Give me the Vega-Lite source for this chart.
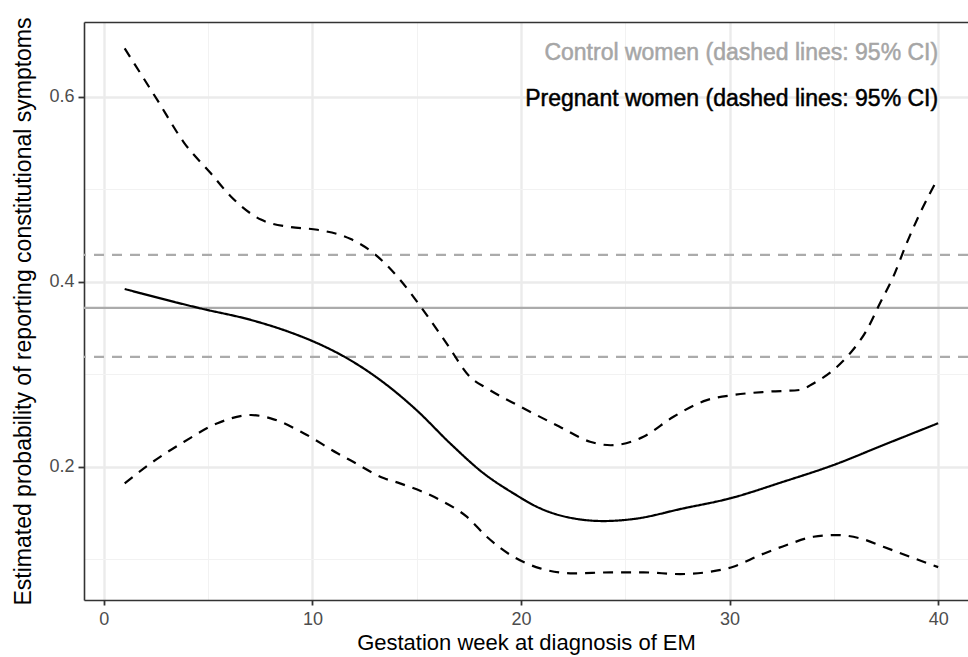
{
  "$schema": "https://vega.github.io/schema/vega-lite/v6.json",
  "width": 884,
  "height": 578,
  "autosize": {"type": "none"},
  "padding": {"left": 84, "top": 22, "right": 0, "bottom": 57},
  "background": "white",
  "config": {
    "view": {"stroke": null},
    "font": "Liberation Sans",
    "axis": {
      "labelFont": "Liberation Sans",
      "titleFont": "Liberation Sans",
      "labelColor": "#4D4D4D",
      "labelFontSize": 18,
      "titleColor": "#000000",
      "titleFontSize": 22,
      "titleFontWeight": "normal",
      "tickColor": "#333333",
      "tickWidth": 1.8,
      "domainColor": "#333333",
      "domainWidth": 1.6,
      "gridColor": "#EBEBEB"
    }
  },
  "datasets": {
    "preg": [
      {"week": 1.0, "value": 0.392, "series": "estimate"},
      {"week": 4.65, "value": 0.371, "series": "estimate"},
      {"week": 7.05, "value": 0.3586, "series": "estimate"},
      {"week": 8.96, "value": 0.345, "series": "estimate"},
      {"week": 10.24, "value": 0.3334, "series": "estimate"},
      {"week": 11.52, "value": 0.319, "series": "estimate"},
      {"week": 13.25, "value": 0.2937, "series": "estimate"},
      {"week": 15.0, "value": 0.261, "series": "estimate"},
      {"week": 16.6, "value": 0.2253, "series": "estimate"},
      {"week": 18.2, "value": 0.193, "series": "estimate"},
      {"week": 19.64, "value": 0.1712, "series": "estimate"},
      {"week": 20.92, "value": 0.155, "series": "estimate"},
      {"week": 22.51, "value": 0.1442, "series": "estimate"},
      {"week": 23.95, "value": 0.1413, "series": "estimate"},
      {"week": 25.39, "value": 0.1435, "series": "estimate"},
      {"week": 27.79, "value": 0.155, "series": "estimate"},
      {"week": 30.02, "value": 0.1658, "series": "estimate"},
      {"week": 32.58, "value": 0.1838, "series": "estimate"},
      {"week": 34.98, "value": 0.2018, "series": "estimate"},
      {"week": 37.37, "value": 0.2234, "series": "estimate"},
      {"week": 40.0, "value": 0.247, "series": "estimate"},
      {"week": 1.0, "value": 0.652, "series": "upper"},
      {"week": 2.57, "value": 0.596, "series": "upper"},
      {"week": 3.85, "value": 0.55, "series": "upper"},
      {"week": 5.13, "value": 0.517, "series": "upper"},
      {"week": 6.09, "value": 0.492, "series": "upper"},
      {"week": 7.53, "value": 0.467, "series": "upper"},
      {"week": 8.96, "value": 0.459, "series": "upper"},
      {"week": 10.24, "value": 0.456, "series": "upper"},
      {"week": 11.84, "value": 0.446, "series": "upper"},
      {"week": 12.92, "value": 0.431, "series": "upper"},
      {"week": 14.2, "value": 0.402, "series": "upper"},
      {"week": 15.32, "value": 0.369, "series": "upper"},
      {"week": 16.44, "value": 0.333, "series": "upper"},
      {"week": 17.56, "value": 0.297, "series": "upper"},
      {"week": 18.36, "value": 0.2848, "series": "upper"},
      {"week": 19.96, "value": 0.265, "series": "upper"},
      {"week": 21.87, "value": 0.243, "series": "upper"},
      {"week": 23.31, "value": 0.227, "series": "upper"},
      {"week": 24.3, "value": 0.2232, "series": "upper"},
      {"week": 25.87, "value": 0.2324, "series": "upper"},
      {"week": 27.31, "value": 0.254, "series": "upper"},
      {"week": 28.91, "value": 0.272, "series": "upper"},
      {"week": 30.18, "value": 0.2775, "series": "upper"},
      {"week": 31.78, "value": 0.281, "series": "upper"},
      {"week": 33.38, "value": 0.283, "series": "upper"},
      {"week": 34.02, "value": 0.29, "series": "upper"},
      {"week": 34.98, "value": 0.3045, "series": "upper"},
      {"week": 35.78, "value": 0.3226, "series": "upper"},
      {"week": 36.58, "value": 0.3478, "series": "upper"},
      {"week": 37.21, "value": 0.3766, "series": "upper"},
      {"week": 37.85, "value": 0.4054, "series": "upper"},
      {"week": 38.49, "value": 0.4415, "series": "upper"},
      {"week": 39.13, "value": 0.474, "series": "upper"},
      {"week": 40.0, "value": 0.512, "series": "upper"},
      {"week": 1.0, "value": 0.182, "series": "lower"},
      {"week": 2.25, "value": 0.2037, "series": "lower"},
      {"week": 3.85, "value": 0.227, "series": "lower"},
      {"week": 5.45, "value": 0.247, "series": "lower"},
      {"week": 7.05, "value": 0.2559, "series": "lower"},
      {"week": 8.0, "value": 0.2523, "series": "lower"},
      {"week": 9.6, "value": 0.236, "series": "lower"},
      {"week": 11.2, "value": 0.2145, "series": "lower"},
      {"week": 11.8, "value": 0.2072, "series": "lower"},
      {"week": 13.44, "value": 0.1875, "series": "lower"},
      {"week": 14.2, "value": 0.182, "series": "lower"},
      {"week": 16.12, "value": 0.164, "series": "lower"},
      {"week": 17.4, "value": 0.146, "series": "lower"},
      {"week": 18.36, "value": 0.1243, "series": "lower"},
      {"week": 19.64, "value": 0.1027, "series": "lower"},
      {"week": 20.92, "value": 0.0902, "series": "lower"},
      {"week": 22.51, "value": 0.0848, "series": "lower"},
      {"week": 24.3, "value": 0.0858, "series": "lower"},
      {"week": 25.87, "value": 0.0858, "series": "lower"},
      {"week": 27.63, "value": 0.084, "series": "lower"},
      {"week": 29.06, "value": 0.0865, "series": "lower"},
      {"week": 30.18, "value": 0.0919, "series": "lower"},
      {"week": 31.46, "value": 0.1045, "series": "lower"},
      {"week": 32.74, "value": 0.1154, "series": "lower"},
      {"week": 34.02, "value": 0.1243, "series": "lower"},
      {"week": 35.14, "value": 0.1262, "series": "lower"},
      {"week": 36.26, "value": 0.1226, "series": "lower"},
      {"week": 37.37, "value": 0.1135, "series": "lower"},
      {"week": 38.65, "value": 0.1027, "series": "lower"},
      {"week": 40.0, "value": 0.0915, "series": "lower"}
    ],
    "control": [
      {"value": 0.3716, "series": "estimate"},
      {"value": 0.4289, "series": "upper"},
      {"value": 0.3186, "series": "lower"}
    ],
    "labels": [
      {"week": 40, "value": 0.6397, "group": "Control", "label": "Control women (dashed lines: 95% CI)"},
      {"week": 40, "value": 0.59, "group": "Pregnant", "label": "Pregnant women (dashed lines: 95% CI)"}
    ]
  },
  "resolve": {"axis": {"x": "independent", "y": "independent"}},
  "layer": [
    {
      "data": {"name": "labels"},
      "mark": {"type": "text", "align": "right", "baseline": "alphabetic", "fontSize": 23, "font": "Liberation Sans", "strokeWidth": 0.5},
      "encoding": {
        "x": {"field": "week", "type": "quantitative", "scale": {"domain": [-0.95, 41.43], "nice": false, "zero": false},
          "axis": {"orient": "top", "values": [5, 15, 25, 35], "grid": true, "gridColor": "#F2F2F2", "gridWidth": 1.1, "labels": false, "ticks": false, "domain": true, "title": null}},
        "y": {"field": "value", "type": "quantitative", "scale": {"domain": [0.056, 0.6805], "nice": false, "zero": false},
          "axis": {"orient": "right", "values": [0.1, 0.3, 0.5], "grid": true, "gridColor": "#F2F2F2", "gridWidth": 1.1, "labels": false, "ticks": false, "domain": false, "title": null}},
        "text": {"field": "label"},
        "color": {"field": "group", "type": "nominal", "scale": {"domain": ["Control", "Pregnant"], "range": ["#A6A6A6", "#000000"]}, "legend": null},
        "stroke": {"field": "group", "type": "nominal", "scale": {"domain": ["Control", "Pregnant"], "range": ["#A6A6A6", "#000000"]}, "legend": null}
      }
    },
    {
      "data": {"name": "control"},
      "mark": {"type": "rule", "strokeWidth": 2.2},
      "encoding": {
        "y": {"field": "value", "type": "quantitative", "axis": null},
        "strokeDash": {"field": "series", "type": "nominal", "scale": {"domain": ["estimate", "upper", "lower"], "range": [[1, 0], [10, 8], [10, 8]]}, "legend": null},
        "color": {"value": "#ABABAB"}
      }
    },
    {
      "data": {"name": "preg"},
      "mark": {"type": "line", "interpolate": "monotone", "strokeWidth": 2.2, "color": "#000000"},
      "encoding": {
        "x": {"field": "week", "type": "quantitative",
          "axis": {"orient": "bottom", "values": [0, 10, 20, 30, 40], "grid": true, "gridWidth": 2.4, "tickSize": 5, "labelPadding": 5, "title": "Gestation week at diagnosis of EM", "titlePadding": 4}},
        "y": {"field": "value", "type": "quantitative",
          "axis": {"orient": "left", "values": [0.2, 0.4, 0.6], "grid": true, "gridWidth": 2.4, "tickSize": 6, "labelPadding": 4, "title": "Estimated probability of reporting constitutional symptoms", "titleFontSize": 23, "titlePadding": 13}},
        "detail": {"field": "series"},
        "strokeDash": {"field": "series", "type": "nominal", "scale": {"domain": ["estimate", "upper", "lower"], "range": [[1, 0], [10, 8], [10, 8]]}, "legend": null}
      }
    }
  ]
}
